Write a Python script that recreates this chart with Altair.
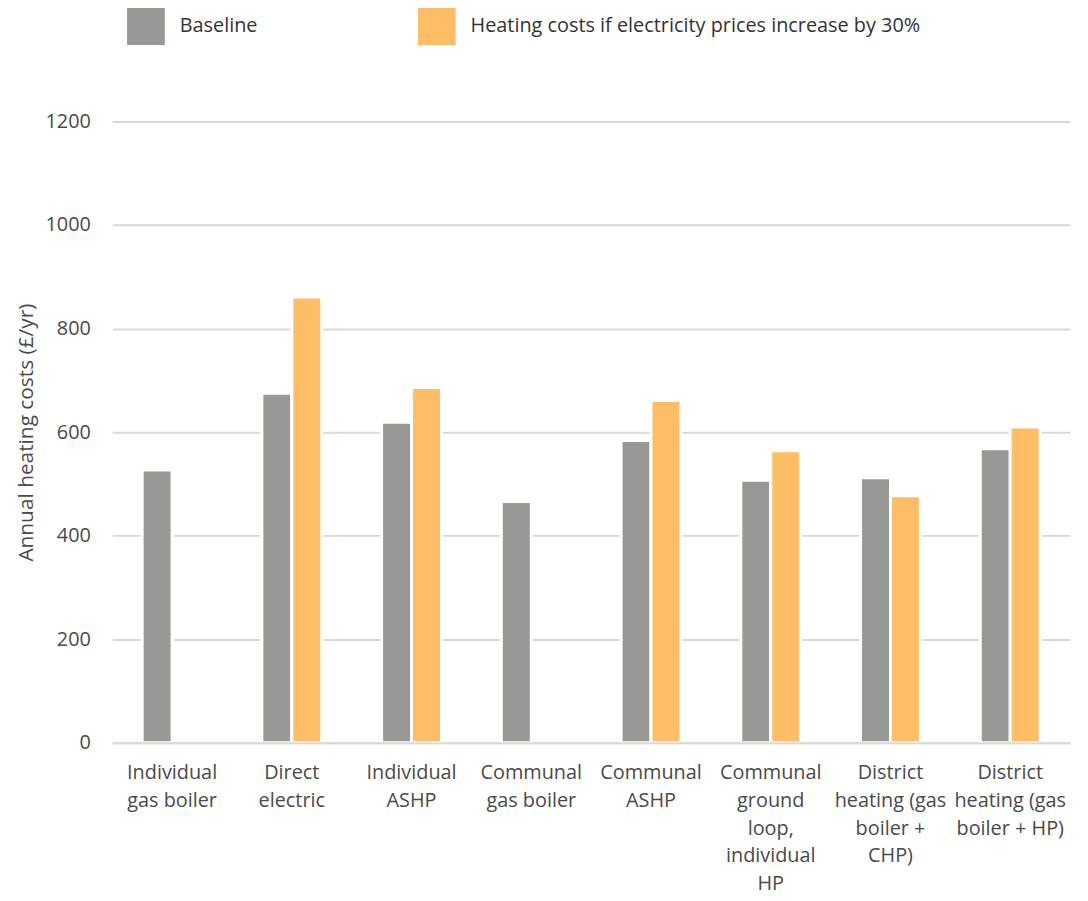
import altair as alt
import pandas as pd

categories = [
    "Individual\ngas boiler",
    "Direct\nelectric",
    "Individual\nASHP",
    "Communal\ngas boiler",
    "Communal\nASHP",
    "Communal\nground\nloop,\nindividual\nHP",
    "District\nheating (gas\nboiler +\nCHP)",
    "District\nheating (gas\nboiler + HP)",
]
series = ["Baseline", "Heating costs if electricity prices increase by 30%"]
baseline = [527, 675, 619, 466, 584, 507, 512, 568]
increase = [None, 861, 686, None, 661, 564, 477, 610]
colors = ["#969994", "#FFBD66"]
y_ticks = [0, 200, 400, 600, 800, 1000, 1200]

rows = []
for c, b, i in zip(categories, baseline, increase):
    rows.append({"cat": c, "series": series[0], "value": b})
    if i is not None:
        rows.append({"cat": c, "series": series[1], "value": i})
df = pd.DataFrame(rows)

FONT = "Open Sans"
TXT = "#4a4a4a"

chart = alt.Chart(df).mark_bar(stroke="white", strokeWidth=3).encode(
    x=alt.X(
        "cat:N",
        sort=categories,
        scale=alt.Scale(paddingInner=0.5, paddingOuter=0.25),
        axis=alt.Axis(
            title=None,
            labelAngle=0,
            labelExpr="split(datum.label, '\\n')",
            labelFont=FONT,
            labelFontSize=20,
            labelColor=TXT,
            labelLineHeight=28,
            labelPadding=20,
            labelBaseline="top",
            ticks=False,
            domain=True,
            domainColor="#d9d9d9",
            domainWidth=2,
            zindex=1,
            labelLimit=200,
        ),
    ),
    xOffset=alt.XOffset("series:N", sort=series),
    y=alt.Y(
        "value:Q",
        scale=alt.Scale(domain=[0, 1200]),
        axis=alt.Axis(
            title="Annual heating costs (£/yr)",
            titleFont=FONT,
            titleFontSize=21,
            titleFontWeight="normal",
            titleColor=TXT,
            titlePadding=9,
            values=y_ticks,
            format="d",
            labelFont=FONT,
            labelFontSize=20,
            labelColor=TXT,
            labelPadding=22,
            ticks=False,
            domain=False,
            gridColor="#d9d9d9",
            gridWidth=2,
        ),
    ),
    color=alt.Color(
        "series:N",
        sort=series,
        scale=alt.Scale(domain=series, range=colors),
        legend=alt.Legend(
            title=None,
            orient="none",
            direction="horizontal",
            legendX=15,
            legendY=-115,
            symbolType="square",
            symbolSize=1444,
            symbolStrokeWidth=0,
            symbolOpacity=1,
            labelFont=FONT,
            labelFontSize=20,
            labelColor="#333333",
            labelOffset=15,
            columnPadding=161,
            labelLimit=600,
        ),
    ),
).properties(
    width=965,
    height=626,
    autosize=alt.AutoSizeParams(type="none"),
    padding={"left": 105, "top": 111, "right": 10, "bottom": 150},
).configure_view(stroke=None)

chart.save("out.html", embed_options={"renderer": "svg", "actions": False})
